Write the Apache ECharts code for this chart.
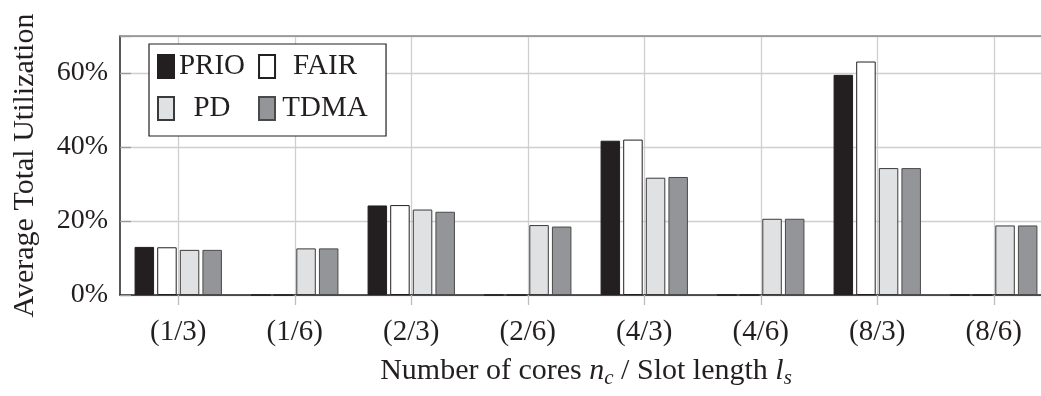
<!DOCTYPE html>
<html>
<head>
<meta charset="utf-8">
<script src="https://cdn.jsdelivr.net/npm/echarts@6/dist/echarts.min.js"></script>
<style>
  html, body { margin: 0; padding: 0; background: #fff; }
  #chart { width: 1041px; height: 396px; }
</style>
</head>
<body>
<div id="chart"></div>
<script>
// Average total utilization per configuration (cores / slot length), in percent
const categories = ['(1/3)', '(1/6)', '(2/3)', '(2/6)', '(4/3)', '(4/6)', '(8/3)', '(8/6)'];
const prio = [13.0, 0, 24.2, 0, 41.7, 0, 59.5, 0];
const fair = [12.9, 0, 24.3, 0, 42.0, 0, 63.1, 0];
const pd   = [12.2, 12.6, 23.1, 18.9, 31.7, 20.6, 34.3, 18.8];
const tdma = [12.2, 12.6, 22.5, 18.5, 31.9, 20.6, 34.3, 18.8];
const yTicks = [0, 20, 40, 60];

const FONT = 'Liberation Serif';
const INK = '#231f20';

function barSeries(name, data, fill, border) {
  return {
    name: name,
    type: 'bar',
    data: data,
    barWidth: 19.5,
    barGap: '16%',
    itemStyle: { color: fill, borderColor: border, borderWidth: 1 },
    emphasis: { disabled: true }
  };
}

const chart = echarts.init(document.getElementById('chart'), null, { renderer: 'canvas' });
chart.setOption({
  animation: false,
  backgroundColor: '#ffffff',
  textStyle: { fontFamily: FONT, color: INK },
  grid: { left: 120, right: -11, top: 36, bottom: 101, containLabel: false, outerBoundsMode: 'none' },
  legend: {
    left: 149,
    top: 44,
    width: 220,
    orient: 'horizontal',
    padding: [8, 16, 13, 8],
    itemGap: 13,
    itemWidth: 16,
    itemHeight: 23,
    icon: 'rect',
    borderColor: INK,
    borderWidth: 1.2,
    backgroundColor: '#ffffff',
    data: ['PRIO', 'FAIR', 'PD', 'TDMA'],
    formatter: function (name) {
      const col = (name === 'PRIO' || name === 'PD') ? 'c1' : 'c2';
      return '{' + col + '|' + name + '}';
    },
    textStyle: {
      fontFamily: FONT,
      fontSize: 29,
      color: INK,
      rich: {
        c1: { width: 66, align: 'center', fontFamily: FONT, fontSize: 29, lineHeight: 23, height: 23, color: INK },
        c2: { width: 90, align: 'center', fontFamily: FONT, fontSize: 29, lineHeight: 23, height: 23, color: INK }
      }
    }
  },
  xAxis: [{
    type: 'category',
    data: categories,
    position: 'bottom',
    name: 'Number of cores {i|n}{s|c} / Slot length {i|l}{s|s}',
    nameLocation: 'middle',
    nameGap: 58,
    nameTextStyle: {
      fontFamily: FONT,
      fontSize: 30,
      color: INK,
      lineHeight: 36,
      rich: {
        i: { fontFamily: FONT, fontStyle: 'italic', fontSize: 30, lineHeight: 36, color: INK },
        s: { fontFamily: FONT, fontStyle: 'italic', fontSize: 21, lineHeight: 20, verticalAlign: 'bottom', color: INK }
      }
    },
    axisLine: { show: true, lineStyle: { color: INK, width: 1.5 } },
    axisTick: { show: true, alignWithLabel: true, length: 10, lineStyle: { color: '#bdbdbd', width: 1.3 } },
    splitLine: { show: true, alignWithLabel: true, lineStyle: { color: '#cfcfcf', width: 1.3 } },
    axisLabel: { fontFamily: FONT, fontSize: 29, color: INK, margin: 23 }
  }, {
    type: 'category',
    data: categories,
    position: 'top',
    axisLine: { show: true, lineStyle: { color: '#8a8a8a', width: 1.5 } },
    axisTick: { show: false },
    axisLabel: { show: false },
    splitLine: { show: false }
  }],
  yAxis: {
    type: 'value',
    min: 0,
    max: 70,
    interval: 20,
    name: 'Average Total Utilization',
    nameLocation: 'middle',
    nameGap: 80,
    nameTextStyle: { fontFamily: FONT, fontSize: 30, color: INK },
    axisLine: { show: true, lineStyle: { color: INK, width: 1.5 } },
    axisTick: { show: true, inside: true, length: 11, lineStyle: { color: '#9a9a9a', width: 1.3 } },
    splitLine: { show: true, lineStyle: { color: '#cfcfcf', width: 1.3 } },
    axisLabel: {
      fontFamily: FONT,
      fontSize: 28,
      color: INK,
      margin: 12,
      formatter: function (v) { return yTicks.indexOf(v) >= 0 ? v + '%' : ''; }
    }
  },
  series: [
    barSeries('PRIO', prio, INK, INK),
    barSeries('FAIR', fair, '#ffffff', INK),
    barSeries('PD', pd, '#e0e1e3', '#3a3a3a'),
    barSeries('TDMA', tdma, '#939598', '#4a4a4a')
  ]
});
</script>
</body>
</html>
